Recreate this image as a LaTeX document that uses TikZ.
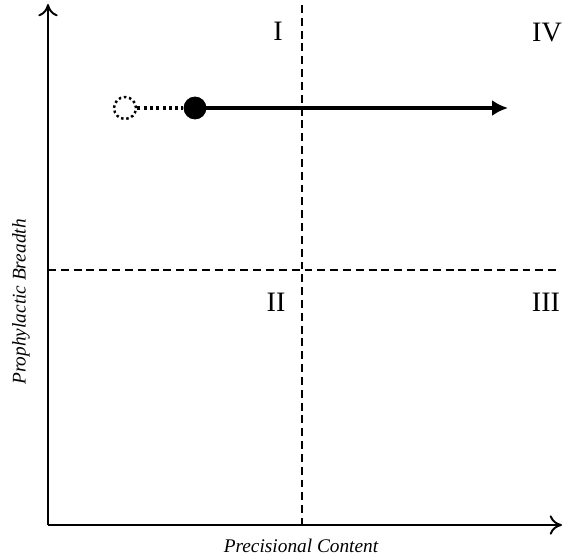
\documentclass[tikz,border=0pt]{standalone}
\usepackage{fontspec}
\setmainfont{Liberation Serif}
\usetikzlibrary{arrows.meta}
\tikzset{
  axis/.style={line width=1.1pt, -{To[length=7pt,width=11pt]}},
  divider/.style={line width=1.1pt, dash pattern=on 4.5pt off 2.8pt},
  quadlabel/.style={font=\fontsize{16}{19}\selectfont},
  axislabel/.style={font=\fontsize{11}{13}\selectfont\itshape},
}
\begin{document}
\begin{tikzpicture}[x=0.02cm, y=-0.02cm, line join=round]
    \useasboundingbox (0,0) rectangle (563,559);

    % 1. coordinates of the axes and the dividers
    \coordinate (O) at (48,525);
    \coordinate (Ytop) at (48,4);
    \coordinate (Xend) at (562,525);
    \coordinate (Vtop) at (302,5);
    \coordinate (Vbot) at (302,525);
    \coordinate (Hleft) at (48,270);
    \coordinate (Hright) at (558,270);

    % 2. dashed dividers
    \draw[divider] (Vtop) -- (Vbot);
    \draw[divider] (Hleft) -- (Hright);

    % 3. axes
    \draw[axis] (O) -- (Ytop);
    \draw[axis] (O) -- (Xend);

    % 4. moving point
    \node[circle, draw, line width=1.4pt, dash pattern=on 1.4pt off 1.6pt, minimum size=12.5pt, inner sep=0pt] (old) at (125,108) {};
    \node[circle, fill, minimum size=13pt, inner sep=0pt] (now) at (195,108) {};
    \coordinate (goal) at (508,108);
    \draw[line width=1.8pt, dash pattern=on 1.8pt off 1.8pt] (old) -- (now);
    \draw[line width=2.3pt, -{Latex[length=9pt,width=9pt]}] (now.center) -- (goal);

    % 5. labels
    \node[quadlabel] (qI) at (278,31) {I};
    \node[quadlabel] (qIV) at (547,33) {IV};
    \node[quadlabel] (qII) at (276,302) {II};
    \node[quadlabel] (qIII) at (546,302) {III};
    \node[axislabel] (xlab) at (301,546) {Precisional Content};
    \node[axislabel, rotate=90] (ylab) at (21,302) {Prophylactic Breadth};

\end{tikzpicture}
\end{document}
